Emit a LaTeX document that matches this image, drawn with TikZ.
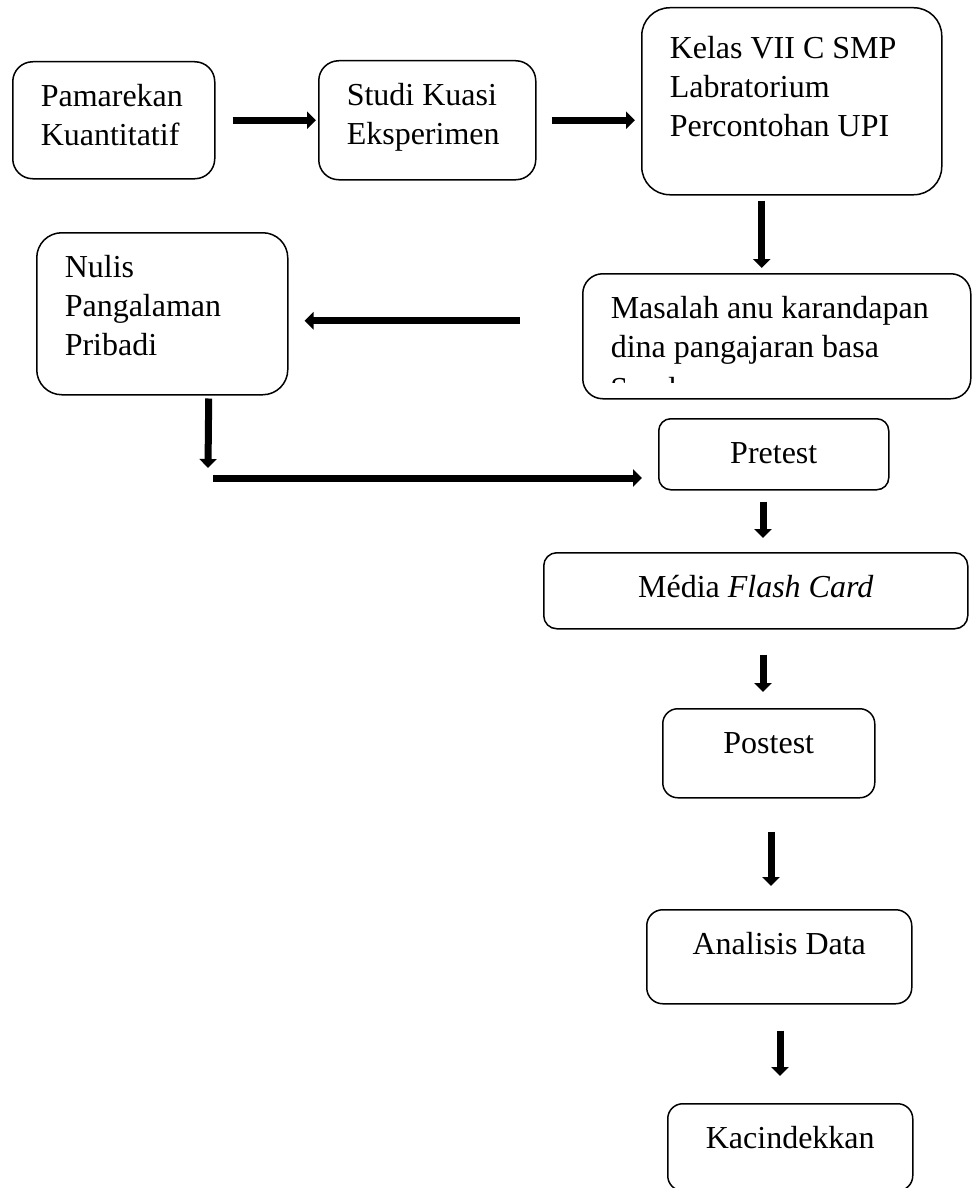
\documentclass[tikz,border=0pt]{standalone}
\usepackage{fontspec}
\setmainfont{Liberation Serif}
\usetikzlibrary{arrows.meta}

% box contents: [top gap]{width}{height}{text}
\newcommand{\boxleft}[4][8.9pt]{\parbox[t][#3][t]{#2}{\vspace*{#1}\raggedright\leftskip=14pt\strut #4}}
\newcommand{\boxmid}[4][8.9pt]{\parbox[t][#3][t]{#2}{\vspace*{#1}\centering\strut #4}}

\tikzset{
  stepbox/.style={draw, line width=0.75pt, inner sep=0pt, anchor=north west, rounded corners=#1, font=\fontsize{16}{19.5}\selectfont},
  stepbox/.default=10pt,
  flow/.style={line width=3.5pt, -{Triangle[length=4.5pt,width=8.5pt]}}
}

\begin{document}
\begin{tikzpicture}[x=0.5pt, y=-0.5pt]
\useasboundingbox (0,0) rectangle (972,1188);
% Draw boxes
\node[stepbox] (pam) at (12,61) {\boxleft{101pt}{58.5pt}{Pamarekan\\Kuantitatif}};
\node[stepbox] (studi) at (318,60) {\boxleft{108.5pt}{59.5pt}{Studi Kuasi\\Eksperimen}};
\node[stepbox=14pt] (kelas) at (641,7) {\boxleft[11.9pt]{150pt}{93.5pt}{Kelas VII C SMP\\Labratorium\\Percontohan UPI}};
\node[stepbox] (masalah) at (582,273) {\boxleft{194pt}{62.5pt}{Masalah anu karandapan\\dina pangajaran basa}};
\node[stepbox=12.5pt] (nulis) at (36,232) {\boxleft{125.5pt}{81pt}{Nulis\\Pangalaman\\Pribadi}};
\node[stepbox=6pt] (pretest) at (658,418) {\boxmid{115pt}{35.5pt}{Pretest}};
\node[stepbox=6.5pt] (media) at (543,552) {\boxmid{212pt}{38pt}{Média \textit{Flash Card}}};
\node[stepbox=7.5pt] (postest) at (662,708) {\boxmid{106pt}{44.5pt}{Postest}};
\node[stepbox=8pt] (analisis) at (646,909) {\boxmid{132.5pt}{47pt}{Analisis Data}};
\node[stepbox=7.5pt] (kacin) at (667,1103) {\boxmid{122.5pt}{43.5pt}{Kacindekkan}};
% Cut off third line
\begin{scope}
\clip (582,273) rectangle (970,382);
\node[anchor=base west, inner sep=0pt, font=\fontsize{16}{19.5}\selectfont] (sunda) at (610,399) {Sunda};
\end{scope}
% Draw arrows
\coordinate (drop) at (208,468);
\coordinate (turn) at (213,478);
\draw[flow, shorten <=8.5pt, shorten >=1pt] (pam) -- (studi);
\draw[flow, shorten <=7.5pt, shorten >=3pt] (studi.east) -- (studi.east -| kelas.west);
\draw[flow, shorten <=2.5pt, shorten >=2.5pt] ([xshift=-15pt]kelas.south) -- ([xshift=-15pt]kelas.south |- masalah.north);
\draw[flow, shorten <=31pt, shorten >=8pt] ([yshift=7.75pt]masalah.west) -- ([yshift=7.75pt]masalah.west -| nulis.east);
\draw[flow, shorten <=1.5pt] ([xshift=23.25pt]nulis.south) -- (drop);
\draw[flow, shorten >=8pt] (turn) -- (turn -| pretest.west);
\foreach \a/\b/\x/\s/\t in {pretest/media/763/5.5pt/7pt, media/postest/763/12.5pt/8pt,
    postest/analisis/771/16.5pt/11.5pt, analisis/kacin/780/13pt/13.5pt}
    \draw[flow, shorten <=\s, shorten >=\t] (\a.south -| \x,0) -- (\b.north -| \x,0);
\end{tikzpicture}
\end{document}
